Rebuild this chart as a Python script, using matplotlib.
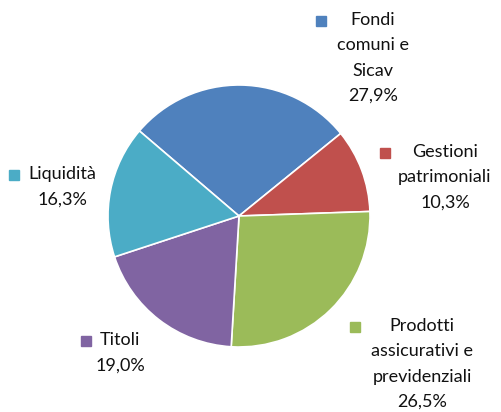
import matplotlib
matplotlib.use("Agg")
import matplotlib.pyplot as plt

# data
categories = ["Fondi\ncomuni e\nSicav", "Gestioni\npatrimoniali",
              "Prodotti\nassicurativi e\nprevidenziali", "Titoli", "Liquidità"]
shares = [27.9, 10.3, 26.5, 19.0, 16.3]
colors = ["#4F81BD", "#C0504D", "#9BBB59", "#8064A2", "#4BACC6"]

plt.rcParams["font.family"] = ["Lato", "DejaVu Sans"]

fig = plt.figure(figsize=(5.01, 4.12), dpi=100)
ax = fig.add_axes([0, 0, 1, 1])

ax.pie(shares, colors=colors, startangle=139.5, counterclock=False,
       center=(239, 196), radius=131,
       wedgeprops=dict(edgecolor="white", linewidth=1.2))
ax.set_xlim(0, 501)
ax.set_ylim(0, 412)
ax.set_aspect("equal")
ax.axis("off")

# label layout: (text center x, first line top y, square x) in pixels from top-left
label_pos = [(373, 12, 321), (445, 144, 385), (422, 318, 355), (120, 332, 86), (62, 166, 14)]

for cat, val, col, (tx, ty, sx) in zip(categories, shares, colors, label_pos):
    txt = cat + "\n" + f"{val:.1f}%".replace(".", ",")
    ax.text(tx, 412 - ty, txt, ha="center", va="top", fontsize=13,
            linespacing=1.72, multialignment="center", color="#111111")
    ax.plot(sx, 412 - ty - 9, marker="s", markersize=7.5, color=col, linestyle="none")

fig.savefig("out.png", dpi=100)
